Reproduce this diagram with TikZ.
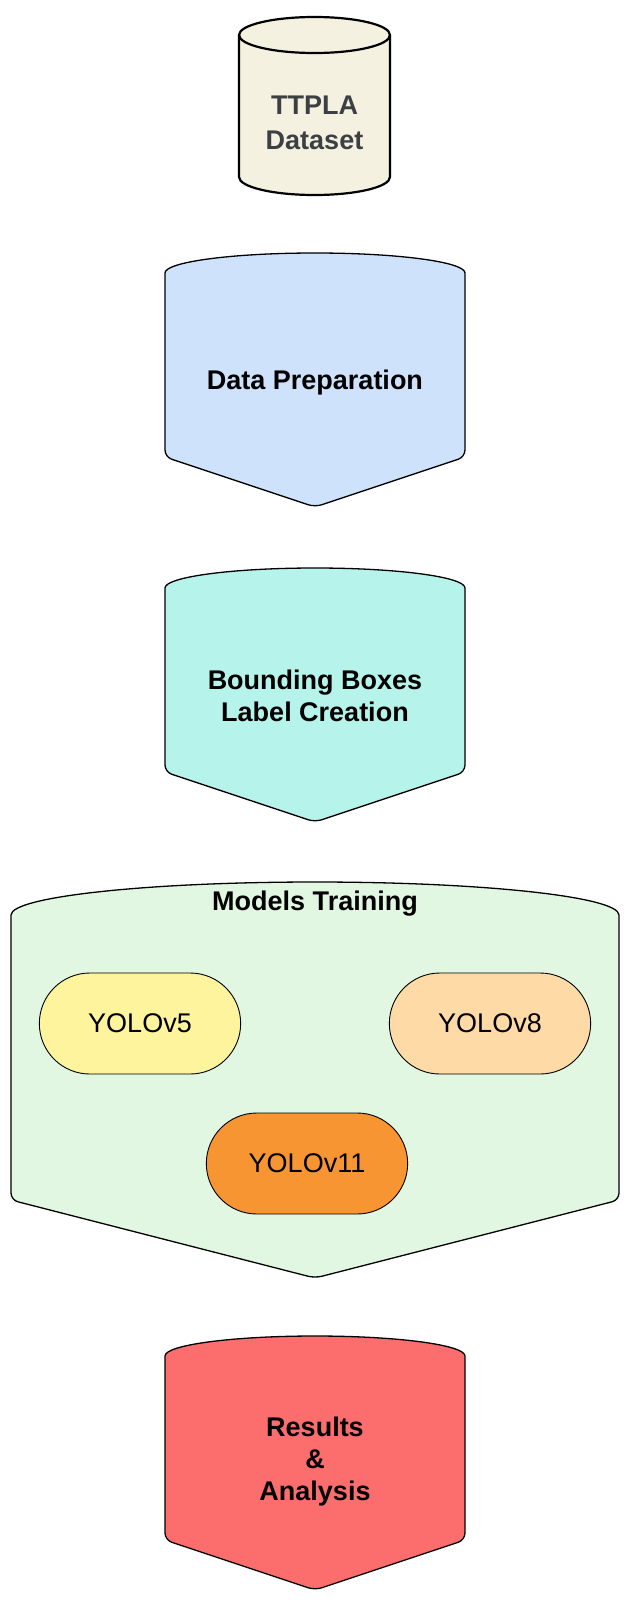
\documentclass[tikz,border=0pt]{standalone}
\usepackage{fontspec}
\setmainfont{Liberation Sans}
\usetikzlibrary{shapes.misc}

\definecolor{datasetfill}{HTML}{F4F1E1}
\definecolor{prepfill}{HTML}{CFE2FC}
\definecolor{bboxfill}{HTML}{B6F3EB}
\definecolor{trainfill}{HTML}{E1F7E1}
\definecolor{vfivefill}{HTML}{FEF49E}
\definecolor{veightfill}{HTML}{FEDBA6}
\definecolor{velevenfill}{HTML}{F89533}
\definecolor{resultfill}{HTML}{FC6E6D}
\definecolor{darktext}{HTML}{3C4043}

% stage shape: fill, left, right, top, ry, side end, point
\newcommand{\stageshape}[7]{%
  \draw[stage border, fill=#1] (#2,#4+#5+30) -- (#2,#4+#5)
    arc[start angle=180, end angle=0, x radius={(#3-#2)/2*1pt}, y radius=#5 pt]
    [rounded corners=7pt] -- (#3,#6) -- ({(#2+#3)/2},#7) -- (#2,#6) -- (#2,#4+#5+30);}

\begin{document}
\begin{tikzpicture}[x=1pt, y=-1pt]
    \tikzstyle{stage border} = [draw=black, line width=1.3pt]
    \tikzstyle{stage label} = [align=center, font=\bfseries\fontsize{27}{32}\selectfont]
    \tikzstyle{model pill} = [rounded rectangle, draw=black, line width=0.9pt, minimum width=208pt, minimum height=101pt, font=\fontsize{27}{32}\selectfont]
\useasboundingbox (0,0) rectangle (630,1612);
% dataset cylinder
\draw[draw=black, line width=2.2pt, fill=datasetfill] (239,35) -- (239,177)
    arc[start angle=180, end angle=360, x radius=75.5pt, y radius=18pt]
    -- (390,35) arc[start angle=0, end angle=180, x radius=75.5pt, y radius=18pt] -- cycle;
\draw[draw=black, line width=2.2pt] (239,35) arc[start angle=180, end angle=360, x radius=75.5pt, y radius=18pt];
\node[stage label, text=darktext, font=\bfseries\fontsize{27}{35}\selectfont] (dataset) at (314.5,123) {TTPLA\\Dataset};
% stages
\stageshape{prepfill}{165}{465}{253}{20}{457}{507}
\node[stage label] (prep) at (315,383) {Data Preparation};
\stageshape{bboxfill}{165}{465}{568}{20}{772}{822}
\node[stage label] (bbox) at (315,696) {Bounding Boxes\\Label Creation};
\stageshape{trainfill}{11}{619}{882}{33}{1200}{1278}
\node[stage label] (train) at (315,904) {Models Training};
\node[model pill, fill=vfivefill] (v5) at (140,1023.5) {YOLOv5};
\node[model pill, fill=veightfill] (v8) at (490,1023.5) {YOLOv8};
\node[model pill, fill=velevenfill] (v11) at (307,1163.5) {YOLOv11};
\stageshape{resultfill}{165}{465}{1336}{20}{1540}{1590}
\node[stage label] (results) at (315,1461.5) {Results\\\&\\Analysis};
\end{tikzpicture}
\end{document}
